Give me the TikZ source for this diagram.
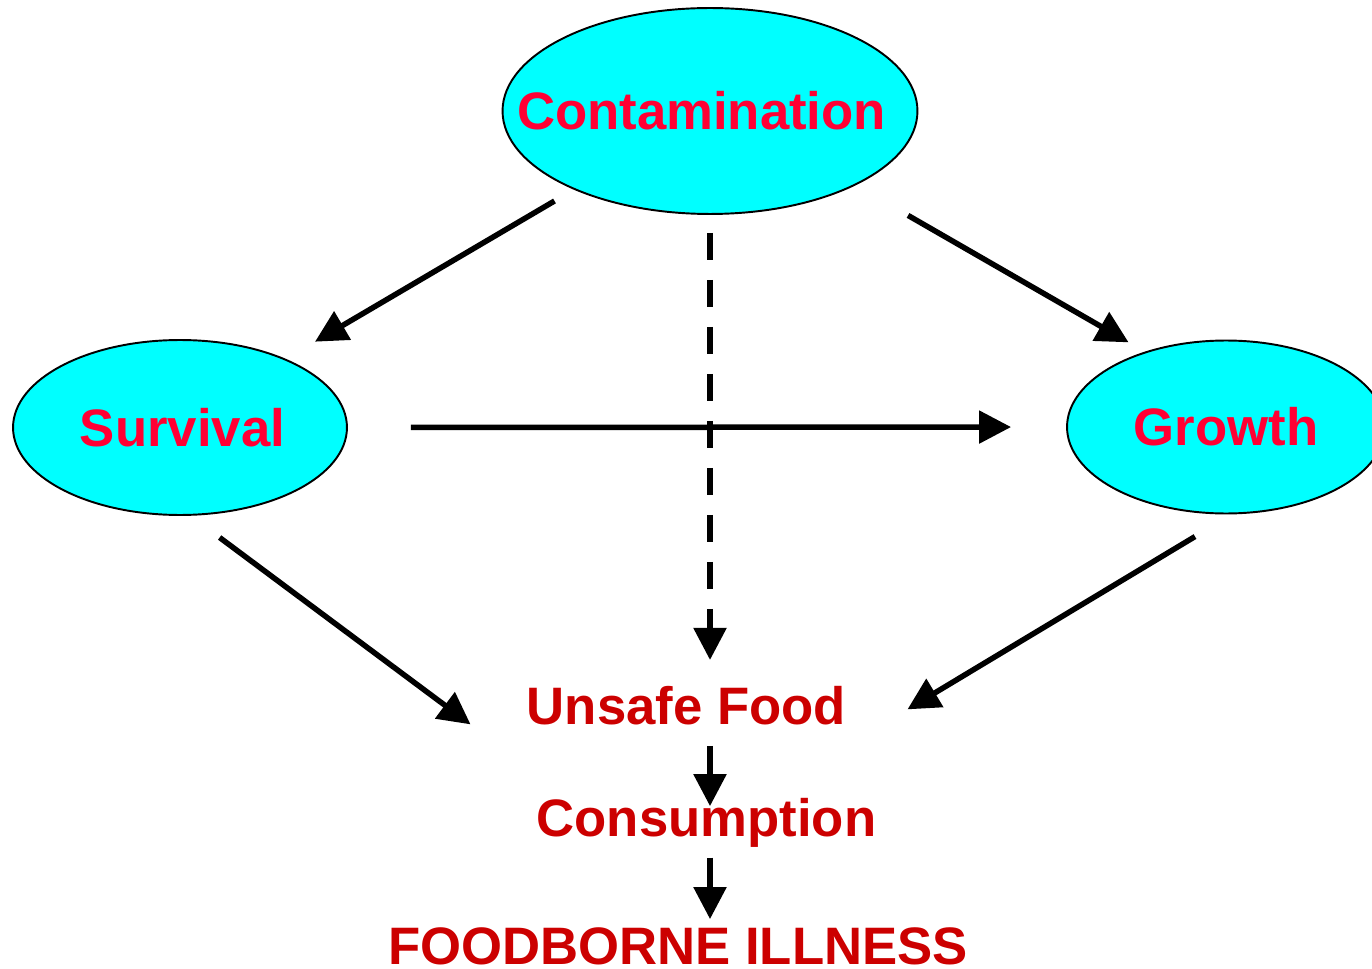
\documentclass[tikz,border=0pt]{standalone}
\usepackage{fontspec}
\setmainfont{Liberation Sans}
\usetikzlibrary{shapes.geometric, arrows.meta, calc}
\definecolor{blobcyan}{HTML}{00FFFF}
\definecolor{labelred}{HTML}{FF0033}
\definecolor{stagered}{HTML}{CC0000}

\begin{document}
\begin{tikzpicture}[x=0.02cm, y=-0.02cm,
  blob/.style={ellipse, draw=black, line width=1.1pt, fill=blobcyan, inner sep=0pt, outer sep=0pt},
  blobtext/.style={text=labelred, font=\fontsize{30}{36}\selectfont\bfseries},
  stage/.style={anchor=base, inner sep=4pt, text=stagered, font=\fontsize{30}{36}\selectfont\bfseries},
  arrow/.style={-{Triangle[length=0.64cm, width=0.64cm]}, line width=0.11cm, draw=black}
]
  \useasboundingbox (0,0) rectangle (1372,969);

  % Ellipses
  \node[blob, minimum width=8.3cm, minimum height=4.12cm, label={[blobtext, xshift=-0.17cm]center:Contamination}] (cont) at (710,111) {};
  \node[blob, minimum width=6.68cm, minimum height=3.5cm, label={[blobtext, xshift=0.05cm]center:Survival}] (surv) at (180,427.5) {};
  \node[blob, minimum width=6.36cm, minimum height=3.46cm, label={[blobtext]center:Growth}] (grow) at (1226,427) {};

  % Stages
  \node[stage] (food) at (686.5,724.5) {Unsafe Food};
  \node[stage] (cons) at (706.5,836.7) {Consumption};
  \node[stage, inner ysep=1pt] (ill) at (678,964) {FOODBORNE ILLNESS};

  \draw[arrow, shorten <=0.47cm, shorten >=0.7cm] (cont.210.3) -- (surv.33.1);
  \draw[arrow, shorten <=1.23cm, shorten >=0.4cm] (cont.-27.5) -- (grow.137);
  \draw[arrow, shorten <=1.28cm, shorten >=1.12cm] (surv.east) -- (grow.west);
  \draw[arrow, dash pattern=on 0.54cm off 0.4cm, shorten <=0.38cm, shorten >=0.38cm] (cont.south) -- (cont.south |- food.north);
  \draw[arrow, shorten <=0.76cm] (surv.-84.5) -- ($(food.west)+(-49,18.7)$);
  \draw[arrow, shorten <=0.9cm] (grow.-85) -- ($(food.east)+(54,3.7)$);
  \draw[arrow, shorten <=0.27cm, shorten >=-0.3cm] (food.south -| cont.south) -- (cons.north -| cont.south);
  \draw[arrow, shorten <=0.05cm, shorten >=0.12cm] (cons.south -| cont.south) -- (ill.north -| cont.south);
\end{tikzpicture}
\end{document}
